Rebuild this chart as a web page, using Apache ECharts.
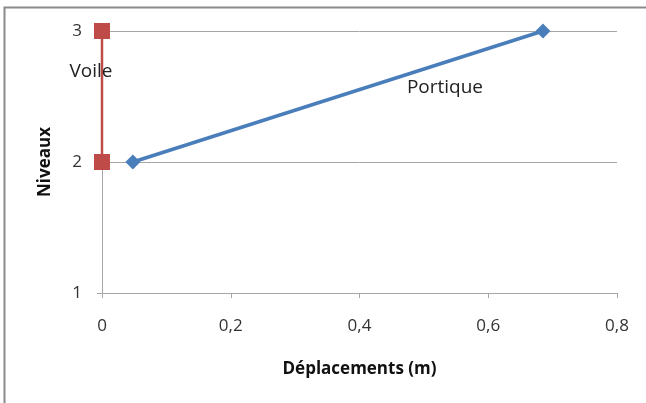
<!DOCTYPE html>
<html>
<head>
<meta charset="utf-8">
<script src="https://cdn.jsdelivr.net/npm/echarts@6/dist/echarts.min.js"></script>
<style>
  html, body { margin: 0; padding: 0; background: #fff; }
  #chart { width: 646px; height: 403px; }
</style>
</head>
<body>
<div id="chart"></div>
<script>
// Déplacements par niveau : portique et voile
const levels = [2, 3];
const portiqueDisp = [0.048, 0.685];
const voileDisp = [0, 0];
const xTicks = [0, 0.2, 0.4, 0.6, 0.8];
const yTicks = [1, 2, 3];

const font = 'Open Sans, Noto Sans, sans-serif';
const gridGray = '#a6a6a6';

const chart = echarts.init(document.getElementById('chart'), null, { renderer: 'canvas' });

function pairs(xs, ys, labelIdx, labelText, offset) {
  return xs.map((x, i) => {
    const item = { value: [x, ys[i]] };
    if (i === labelIdx) {
      item.label = {
        show: true, formatter: labelText, position: 'inside', offset: offset,
        color: '#222', fontSize: 19, fontFamily: font
      };
    }
    return item;
  });
}

chart.setOption({
  animation: false,
  graphic: [{
    type: 'polyline',
    shape: { points: [[4.5, 403], [4.5, 7.5], [646, 7.5]] },
    style: { stroke: '#8a8a8a', lineWidth: 2, fill: null },
    silent: true
  }],
  grid: { left: 102, right: 29, top: 31, bottom: 110, containLabel: false },
  xAxis: {
    type: 'value',
    min: xTicks[0], max: xTicks[xTicks.length - 1], interval: 0.2,
    name: 'Déplacements (m)',
    nameLocation: 'middle', nameGap: 68,
    nameTextStyle: { fontFamily: font, fontWeight: 'bold', fontSize: 17, color: '#111' },
    axisLine: { show: true, onZero: false, lineStyle: { color: gridGray, width: 1 } },
    axisTick: { show: true, inside: false, length: 5, lineStyle: { color: gridGray } },
    axisLabel: {
      margin: 25, fontFamily: font, fontSize: 17, color: '#333',
      formatter: v => String(Math.round(v * 10) / 10).replace('.', ',')
    },
    splitLine: { show: false }
  },
  yAxis: {
    type: 'value',
    min: yTicks[0], max: yTicks[yTicks.length - 1], interval: 1,
    name: 'Niveaux',
    nameLocation: 'middle', nameGap: 48, nameRotate: 90,
    nameTextStyle: { fontFamily: font, fontWeight: 'bold', fontSize: 17, color: '#111' },
    axisLine: { show: true, onZero: false, lineStyle: { color: gridGray, width: 1 } },
    axisTick: { show: true, inside: false, length: 5, lineStyle: { color: gridGray } },
    axisLabel: { margin: 20, fontFamily: font, fontSize: 17, color: '#333' },
    splitLine: { show: true, lineStyle: { color: gridGray, width: 1 } }
  },
  series: [
    {
      name: 'Portique',
      type: 'line',
      data: pairs(portiqueDisp, levels, 1, 'Portique', [-98, 57]),
      symbol: 'diamond', symbolSize: 15,
      lineStyle: { color: '#4a7ebb', width: 3.5 },
      itemStyle: { color: '#4a7ebb' }
    },
    {
      name: 'Voile',
      type: 'line',
      data: pairs(voileDisp, levels, 1, 'Voile', [-11, 41]),
      symbol: 'rect', symbolSize: 16,
      lineStyle: { color: '#be4b48', width: 2.5 },
      itemStyle: { color: '#be4b48' }
    }
  ]
});
</script>
</body>
</html>
